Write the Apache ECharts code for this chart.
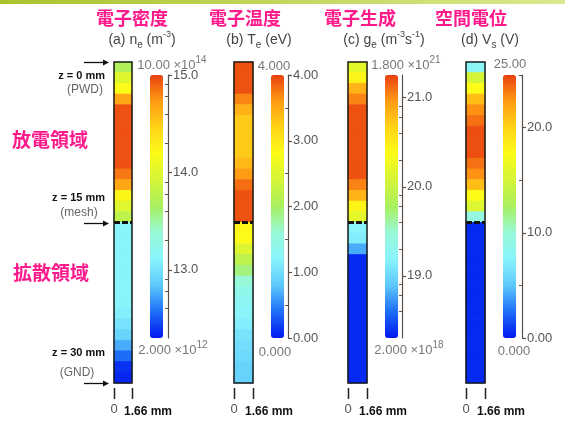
<!DOCTYPE html>
<html>
<head>
<meta charset="utf-8">
<script src="https://cdn.jsdelivr.net/npm/echarts@6/dist/echarts.min.js"></script>
<style>
  html, body { margin: 0; padding: 0; background: #fff; }
  #main { width: 565px; height: 421px; }
</style>
</head>
<body>
<div id="main"></div>
<script>
// top edge of each 1 mm cell along z (0 = PWD, 15 = mesh, 30 = GND)
var cellZ = [0, 1, 2, 3, 4, 5, 6, 7, 8, 9, 10, 11, 12, 13, 14, 15, 16, 17, 18, 19, 20, 21, 22, 23, 24, 25, 26, 27, 28, 29];
// (a) electron density, x10^14 m^-3
var neVals = [0.50, 1.0, 1.55, 4.8, 8.9, 8.9, 8.9, 8.9, 8.9, 8.9, 6.9, 4.8, 1.75, 1.0, 0.61,
              0.13, 0.13, 0.13, 0.13, 0.13, 0.13, 0.13, 0.13, 0.12, 0.10, 0.083, 0.057, 0.037, 0.024, 0.022];
// (b) electron temperature, eV
var teVals = [3.92, 3.92, 3.92, 3.7, 3.45, 3.28, 3.28, 3.28, 3.28, 3.4, 3.6, 3.8, 3.92, 3.92, 3.92,
              2.85, 2.8, 2.5, 2.2, 1.9, 1.6, 1.4, 1.3, 1.25, 1.15, 1.05, 1.0, 0.95, 0.9, 0.9];
// (c) electron generation, x10^20 m^-3 s^-1
var geVals = [1.55, 2.7, 6.9, 11, 15.8, 15.8, 15.8, 15.8, 15.8, 15.8, 15.8, 11, 6.9, 2.7, 1.55,
              0.16, 0.14, 0.063, 0.023, 0.023, 0.023, 0.023, 0.023, 0.023, 0.023, 0.023, 0.023, 0.023, 0.023, 0.023];
// (d) space potential, V
var vsVals = [8, 15, 17.5, 21, 22.8, 23.7, 24.6, 24.6, 24.6, 23.7, 22.8, 21, 17.5, 15.5, 9.5,
              0.5, 0.5, 0.5, 0.5, 0.5, 0.5, 0.5, 0.5, 0.5, 0.5, 0.5, 0.5, 0.5, 0.5, 0.5];

var meshZ = 15;
var colWidthMM = 1.66;
var radialTicks = [0, 1.66];

// colour bar ranges and ticks
var neRange = [2e12, 1e15];
var teRange = [0, 4];
var geRange = [2e18, 1.8e21];
var vsRange = [0, 25];
var neMajor = [13, 14, 15];
var neMinor = [4e12, 6e12, 8e12, 2e13, 4e13, 6e13, 8e13, 2e14, 4e14, 6e14, 8e14];
var teMajor = [0, 1, 2, 3, 4];
var teMinor = [0.5, 1.5, 2.5, 3.5];
var geMajor = [19, 20, 21];
var geMinor = [4e18, 6e18, 8e18, 2e19, 4e19, 6e19, 8e19, 2e20, 4e20, 6e20, 8e20];
var vsMajor = [0, 10, 20];
var vsMinor = [5, 15, 25];

var jet = ['#0018f0', '#1e6ef8', '#5cc8fc', '#88f4fc', '#98f8d8', '#a8f060',
           '#d4f438', '#fcfc18', '#ffd418', '#ff9c14', '#ea4010'];

var latin = "'Liberation Sans', Arial, sans-serif";
var jp = "'Noto Sans CJK JP', sans-serif";
var pink = '#ff1a8c';

var lg = Math.log10;

var panels = [
  {vals: neVals, scale: 1e14, log: true, range: neRange, major: neMajor, minor: neMinor.map(function (v) { return lg(v); }),
   fmt: function (v) { return v.toFixed(1); }, colLeft: 114, colW: 18, barLeft: 150, axisX: 168},
  {vals: teVals, scale: 1, log: false, range: teRange, major: teMajor, minor: teMinor,
   fmt: function (v) { return v.toFixed(2); }, colLeft: 234, colW: 19, barLeft: 271, axisX: 288},
  {vals: geVals, scale: 1e20, log: true, range: geRange, major: geMajor, minor: geMinor.map(function (v) { return lg(v); }),
   fmt: function (v) { return v.toFixed(1); }, colLeft: 348, colW: 19, barLeft: 385, axisX: 402},
  {vals: vsVals, scale: 1, log: false, range: vsRange, major: vsMajor, minor: vsMinor,
   fmt: function (v) { return v === 0 ? '0.00' : v.toFixed(1); }, colLeft: 466, colW: 19, barLeft: 503, axisX: 522}
];

function renderCell(params, api) {
  var p0 = api.coord([0, api.value(1)]);
  var p1 = api.coord([colWidthMM, api.value(2)]);
  var c = api.visual('color');
  return {
    type: 'rect',
    shape: {x: p0[0], y: p0[1], width: p1[0] - p0[0], height: p1[1] - p0[1]},
    style: {fill: c, stroke: c, lineWidth: 0.8}
  };
}

var grid = [], xAxis = [], yAxis = [], series = [], visualMap = [];
var colGrids = [];

panels.forEach(function (p) {
  var lo = p.log ? lg(p.range[0]) : p.range[0];
  var hi = p.log ? lg(p.range[1]) : p.range[1];
  var rows = cellZ.map(function (z, k) {
    var v = p.vals[k] * p.scale;
    return [0, z, z + 1, p.log ? lg(v) : v];
  });

  // column
  var gCol = grid.length;
  colGrids.push(gCol);
  grid.push({left: p.colLeft, top: 62, width: p.colW, height: 321, show: true,
             borderColor: '#1a1a1a', borderWidth: 1.5, backgroundColor: 'transparent', z: 10});
  var xCol = xAxis.length;
  xAxis.push({
    gridIndex: gCol, type: 'value', min: 0, max: colWidthMM, interval: colWidthMM, offset: 5,
    axisLine: {show: false}, splitLine: {show: false}, axisTick: {show: false},
    axisLabel: {
      margin: 15,
      formatter: function (v) { return v === 0 ? '{z|0}' : '{b|1.66 mm}'; },
      rich: {
        z: {fontSize: 13, color: '#555', fontFamily: latin},
        b: {fontSize: 12, fontWeight: 'bold', color: '#111', fontFamily: latin, padding: [3, 0, 0, 32]}
      }
    }
  });
  var yCol = yAxis.length;
  yAxis.push({gridIndex: gCol, type: 'value', min: 0, max: 30, inverse: true, show: false});

  var sIdx = series.length;
  series.push({type: 'custom', xAxisIndex: xCol, yAxisIndex: yCol, renderItem: renderCell,
               encode: {x: 0, y: [1, 2]}, data: rows, silent: true});
  series.push({type: 'line', xAxisIndex: xCol, yAxisIndex: yCol, symbol: 'none', silent: true, z: 5,
               data: [[0, meshZ], [colWidthMM, meshZ]],
               lineStyle: {color: '#111', width: 3, type: [6, 2]}});

  visualMap.push({
    type: 'continuous', seriesIndex: sIdx, dimension: 3, min: lo, max: hi,
    calculable: false, hoverLink: false, padding: 0, orient: 'vertical',
    left: p.barLeft, top: 75, itemWidth: 13, itemHeight: 263,
    inRange: {color: jet}
  });

  // colour bar axis
  var gBar = grid.length;
  grid.push({left: p.axisX, top: 75, width: 0, height: 263});
  xAxis.push({gridIndex: gBar, type: 'value', show: false});
  yAxis.push({
    gridIndex: gBar, type: 'value', position: 'right', min: lo, max: hi,
    axisLine: {show: true, lineStyle: {color: '#5a5048', width: 1.2}},
    axisTick: {show: true, length: 4, customValues: p.major, lineStyle: {color: '#5a5048', width: 1.2}},
    axisLabel: {customValues: p.major, formatter: p.fmt, color: '#555', fontSize: 13,
                fontFamily: latin, margin: 5},
    splitLine: {show: false}
  });
  yAxis.push({
    gridIndex: gBar, type: 'value', position: 'left', min: lo, max: hi,
    axisLine: {show: false},
    axisTick: {show: true, length: 3, customValues: p.minor, lineStyle: {color: '#5a5048', width: 1}},
    axisLabel: {show: false}, splitLine: {show: false}
  });
});

var chart = echarts.init(document.getElementById('main'));
chart.setOption({
  animation: false,
  backgroundColor: '#fff',
  grid: grid, xAxis: xAxis, yAxis: yAxis, series: series, visualMap: visualMap
});

// text and arrows
var base = {fontSize: 14, lineHeight: 20, verticalAlign: 'middle', fontFamily: latin, fill: '#444'};
var sub = {fontSize: 10, lineHeight: 10, verticalAlign: 'bottom', fontFamily: latin, fill: '#444'};
var sup = {fontSize: 9, lineHeight: 10, verticalAlign: 'top', fontFamily: latin, fill: '#444'};
var gbase = {fontSize: 13, lineHeight: 20, verticalAlign: 'middle', fontFamily: latin, fill: '#777'};
var gsup = {fontSize: 10, lineHeight: 10, verticalAlign: 'top', fontFamily: latin, fill: '#777'};

function rt(text, x, y, rich) {
  return {type: 'text', x: x, y: y, silent: true,
          style: {text: text, rich: rich, align: 'center', verticalAlign: 'middle'}};
}
function plain(text, x, y, font, fill, align) {
  return {type: 'text', x: x, y: y, silent: true,
          style: {text: text, font: font, fill: fill, align: align || 'center', verticalAlign: 'middle'}};
}

var headings = ['電子密度', '電子温度', '電子生成', '空間電位'];
var headX = [132, 245, 360, 471];
var r1 = {n: base, s: sub, p: sup};
var r2 = {n: gbase, p: gsup};

var gfx = [
  {type: 'rect', shape: {x: 0, y: 0, width: 565, height: 4}, silent: true,
   style: {fill: new echarts.graphic.LinearGradient(0, 0, 1, 0,
     [{offset: 0, color: '#a8c42c'}, {offset: 1, color: '#dbe98e'}])}}
];
headings.forEach(function (h, i) {
  gfx.push(plain(h, headX[i], 18, 'bold 18px ' + jp, pink));
});
gfx.push(rt('{n|(a) n}{s|e}{n| (m}{p|-3}{n|)}', 142, 40, r1));
gfx.push(rt('{n|(b) T}{s|e}{n| (eV)}', 259, 40, r1));
gfx.push(rt('{n|(c) g}{s|e}{n| (m}{p|-3}{n|s}{p|-1}{n|)}', 384, 40, r1));
gfx.push(rt('{n|(d) V}{s|s}{n| (V)}', 490, 40, r1));

gfx.push(rt('{n|10.00 ×10}{p|14}', 172, 65, r2));
gfx.push(rt('{n|4.000}', 274, 66, r2));
gfx.push(rt('{n|1.800 ×10}{p|21}', 406, 65, r2));
gfx.push(rt('{n|25.00}', 510, 64, r2));
gfx.push(rt('{n|2.000 ×10}{p|12}', 173, 350, r2));
gfx.push(rt('{n|0.000}', 275, 352, r2));
gfx.push(rt('{n|2.000 ×10}{p|18}', 409, 350, r2));
gfx.push(rt('{n|0.000}', 514, 351, r2));

gfx.push(plain('放電領域', 50, 140, 'bold 19px ' + jp, pink));
gfx.push(plain('拡散領域', 51, 273, 'bold 19px ' + jp, pink));
gfx.push(plain('z = 0 mm', 105, 76, 'bold 11px ' + latin, '#111', 'right'));
gfx.push(plain('(PWD)', 85, 90, '12px ' + latin, '#666'));
gfx.push(plain('z = 15 mm', 105, 198, 'bold 11px ' + latin, '#111', 'right'));
gfx.push(plain('(mesh)', 79, 213, '12px ' + latin, '#666'));
gfx.push(plain('z = 30 mm', 105, 353, 'bold 11px ' + latin, '#111', 'right'));
gfx.push(plain('(GND)', 77, 373, '12px ' + latin, '#666'));

// arrows at PWD, mesh and GND
[0, meshZ, 30].forEach(function (z) {
  var pt = chart.convertToPixel({gridIndex: 0}, [0, z]);
  var tipX = pt[0] - 5, y = Math.round(pt[1]) + 0.5;
  gfx.push({type: 'line', silent: true, shape: {x1: tipX - 25, y1: y, x2: tipX - 4, y2: y},
            style: {stroke: '#111', lineWidth: 1.3}});
  gfx.push({type: 'polygon', silent: true,
            shape: {points: [[tipX, y], [tipX - 6, y - 3], [tipX - 6, y + 3]]},
            style: {fill: '#111'}});
});

// radial ticks under every column (0 and 1.66 mm)
colGrids.forEach(function (g) {
  radialTicks.forEach(function (r) {
    var pt = chart.convertToPixel({gridIndex: g}, [r, 30]);
    var x = Math.round(pt[0]) + 0.5;
    gfx.push({type: 'line', silent: true, shape: {x1: x, y1: pt[1] + 5, x2: x, y2: pt[1] + 16},
              style: {stroke: '#222', lineWidth: 1.5}});
  });
});

chart.setOption({graphic: gfx});
</script>
</body>
</html>
